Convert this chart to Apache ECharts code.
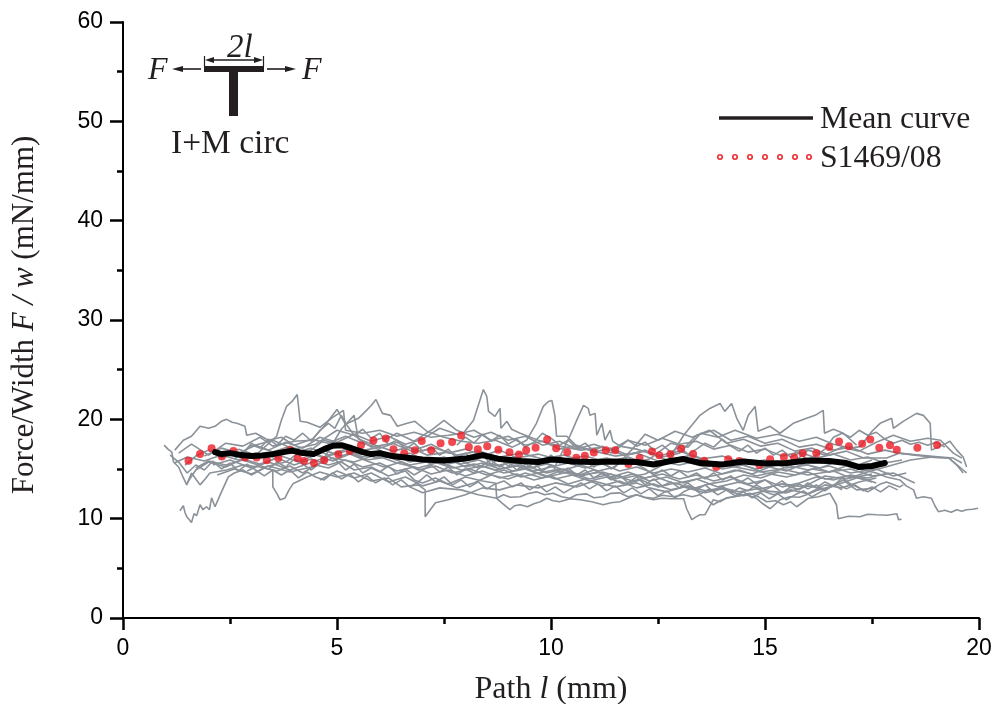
<!DOCTYPE html>
<html><head><meta charset="utf-8">
<style>html,body{margin:0;padding:0;background:#fff}#c{width:996px;height:704px}</style>
<script src="https://cdn.jsdelivr.net/npm/echarts@6/dist/echarts.min.js"></script>
</head><body><div id="c"></div>
<script>
const xTicks=[0,5,10,15,20];
const yTicks=[0,10,20,30,40,50,60];
const meanCurve=[[2.15,16.7],[2.3,16.5],[2.5,16.6],[2.75,16.4],[3,16.3],[3.25,16.35],[3.5,16.5],[3.75,16.7],[3.95,16.85],[4.2,16.6],[4.45,16.5],[4.7,17],[4.9,17.35],[5.1,17.4],[5.3,17.15],[5.6,16.7],[5.8,16.5],[6,16.6],[6.3,16.3],[6.6,16.15],[7,15.95],[7.5,15.85],[8,16.05],[8.4,16.4],[8.8,16],[9.3,15.8],[9.7,15.7],[10,15.95],[10.2,15.9],[10.5,15.75],[11,15.7],[11.5,15.75],[12,15.7],[12.4,15.45],[12.8,15.8],[13.1,16],[13.5,15.6],[14,15.45],[14.5,15.75],[15,15.55],[15.5,15.6],[16,15.85],[16.5,15.8],[16.9,15.6],[17.2,15.2],[17.5,15.3],[17.8,15.6]];
const s1469=[[1.53,15.84],[1.8,16.5],[2.07,17.08],[2.31,16.25],[2.58,16.8],[2.85,16.15],[3.12,16.15],[3.36,15.88],[3.63,16.08],[3.9,16.9],[4.08,16.11],[4.23,15.81],[4.46,15.61],[4.7,15.88],[5.03,16.48],[5.3,16.82],[5.56,17.39],[5.85,17.86],[6.14,18.06],[6.32,16.99],[6.57,16.58],[6.82,16.88],[6.98,17.83],[7.2,16.88],[7.42,17.59],[7.69,17.72],[7.9,18.36],[8.08,17.22],[8.29,16.99],[8.51,17.29],[8.77,16.95],[9.03,16.68],[9.25,16.45],[9.42,16.88],[9.64,17.15],[9.91,17.96],[10.12,17.09],[10.38,16.68],[10.59,16.14],[10.79,16.34],[11,16.65],[11.28,16.88],[11.5,16.88],[11.81,15.51],[12.07,16.11],[12.36,16.75],[12.53,16.38],[12.79,16.48],[13.04,17.05],[13.32,16.52],[13.58,15.84],[13.86,15.2],[14.14,15.98],[14.4,15.81],[14.87,15.4],[15.12,15.98],[15.44,16.21],[15.68,16.15],[15.88,16.58],[16.2,16.58],[16.5,17.22],[16.73,17.76],[16.96,17.29],[17.27,17.55],[17.46,17.96],[17.67,17.15],[17.92,17.39],[18.08,16.95],[18.56,17.15],[19.02,17.42]];
const g01=[[1.33,10.8],[1.41,11.3],[1.45,10.6],[1.49,10.2],[1.55,9.9],[1.6,9.6],[1.66,10.5],[1.72,10.3],[1.8,11.4],[1.87,10.9],[1.95,11.2],[2.02,10.9],[2.07,12.1],[2.15,11.2],[2.27,12.4],[2.46,14.2],[2.6,14.6],[2.8,14.9],[3,14.4],[3.3,15.1],[3.6,14.8],[3.9,15.3],[4.2,14.6],[4.5,15.4],[4.8,15.1],[5.1,15.7],[5.4,14.9],[5.8,15.2],[6.2,14.3],[6.6,14.8],[6.8,13.9],[7,13.6],[7.3,14.1],[7.6,13.5],[8,14.2],[8.4,13.8],[8.71,13.56],[8.73,12.05],[8.89,12.4],[9.05,12.15],[9.28,12.2],[9.45,12.5],[9.66,12.7],[9.85,12.4],[10.05,12.55],[10.25,12.2],[10.44,12.05],[10.6,12.4],[10.83,12.5],[11,12.1],[11.22,12.2],[11.4,12.55],[11.6,12.6],[11.8,12.2],[12,12.4],[12.2,12.15],[12.39,12.05],[12.6,12.35],[12.86,12.2],[13.1,12.4],[13.3,12.2],[13.48,12.4],[13.65,11.9],[13.79,11.4],[13.95,11.8],[14.1,12.05],[14.4,12.3],[14.65,12.55],[14.85,12.2],[15.04,11.7],[15.25,11.8],[15.43,11.4],[15.6,11.7],[15.74,11.2],[16.01,12.05],[16.25,12.2],[16.52,12.55],[16.67,11.4],[16.71,10],[16.95,10.25],[17.22,10.2],[17.4,10.45],[17.61,10.4],[17.85,10.35],[18.08,10.5],[18.12,9.9],[18.19,9.94]];
const g02=[[6.7,13.2],[7,12.6],[7.4,13.1],[7.9,12.9],[8.3,12.4],[8.73,12.05],[8.85,11.6],[9.04,10.9],[9.15,11.3],[9.28,11.4],[9.45,11.2],[9.6,11.5],[9.75,11.7],[9.9,12.05],[10.05,11.8],[10.2,11.7],[10.45,12],[10.68,11.9],[10.95,11.7],[11.22,11.4],[11.4,11.6],[11.61,11.7],[11.8,12.05],[12,12.4],[12.2,12.1],[12.39,11.9],[12.6,12.05],[12.8,12],[13.1,12],[13.17,11],[13.29,9.9],[13.4,10.2],[13.48,10.4],[13.6,10.4],[13.79,11.9],[13.95,11.7],[14.1,12.1],[14.26,12.2],[14.57,12.4],[14.8,12.05],[14.95,11.5],[15.12,11],[15.35,11.9],[15.58,12.2],[15.8,12.15],[15.97,12.4],[16.25,12.9],[16.52,13.2],[16.83,13.9],[17,13.3],[17.14,12.9],[17.53,13.06],[17.7,13.5],[17.84,13.7],[18.15,13.2],[18.23,13.4]];
const g03=[[0.96,17.4],[1.05,17],[1.14,16.7],[1.18,15.7],[1.3,15.2],[1.4,14.2],[1.49,13.4],[1.6,14.6],[1.7,14],[1.8,13.4],[1.92,14],[2.03,14.6],[2.42,14.9],[2.8,15.4],[3.2,15.2],[3.5,14.9],[3.5,13.2],[3.6,12.5],[3.67,11.9],[3.78,12.05],[3.88,12.9],[3.98,13.55],[4.3,14.2],[4.6,14.7],[5,14.2],[5.4,14.6],[5.8,13.8],[6.2,14.1],[6.5,13.2],[6.9,13.4],[7.06,12.9],[7.06,10.2],[7.3,11.6],[7.6,11.9],[8,12.4],[8.4,13.1],[8.8,12.9],[9.2,13.4],[9.7,13.1],[10.1,13.6],[10.6,13.2],[11,13.8],[11.5,13.2],[12,13.6],[12.3,13.1],[12.7,12.7],[13.1,13.2],[13.6,12.6],[14,13],[14.5,12.3],[15,12.8],[15.5,12.6],[16,13.3],[16.4,13],[16.8,13.6],[17.2,14.2],[17.6,13.6]];
const g04=[[1.21,16.9],[1.41,17.9],[1.6,18.3],[1.8,19.3],[2,19.1],[2.15,19.3],[2.3,19.8],[2.42,20],[2.55,19.7],[2.66,19.6],[2.85,19.3],[2.89,18.4],[3.1,18.6],[3.4,17.9],[3.7,18.2],[4,17.4],[4.4,18],[4.8,17.6],[5.2,18.3],[5.6,17.6],[6,17.1],[6.4,17.7],[6.8,16.9],[7.2,17.5],[7.6,16.6],[8,17],[8.4,16.3],[8.8,16.9],[9.2,16.1],[9.7,16.5],[10.2,15.9],[10.8,16.3],[11.3,15.7],[11.8,16.2],[12.4,15.3],[13,15.9],[13.6,15.2],[14.2,15.7],[14.8,15],[15.4,15.5],[16,14.9],[16.5,15.3],[17,14.6],[17.6,15],[18,14.3],[18.3,14.6]];
const g05=[[1.45,15.4],[1.7,16.3],[2,16.9],[2.3,16.1],[2.7,17],[3.1,16.4],[3.59,18.3],[3.7,19.9],[3.82,21.3],[3.95,21.8],[4.07,22.5],[4.14,19.8],[4.3,19.7],[4.6,19.2],[4.9,20.2],[5.15,20.9],[5.2,18.9],[5.6,18.6],[6,18.9],[6.4,18.3],[6.8,18.7],[7.2,18.2],[7.6,18.4],[7.95,18.6],[8.19,19.9],[8.3,21.4],[8.42,23],[8.5,22.3],[8.54,20.8],[8.69,20.3],[8.81,21.1],[8.83,19.1],[8.97,19.8],[9.08,19],[9.28,18.6],[9.7,17.9],[10.2,17.3],[10.7,16.9],[11.2,17.2],[11.7,16.4],[12.2,16.8],[12.7,15.9],[13.3,16.4],[13.8,15.6],[14.3,15.2],[14.9,14.7],[15.4,15],[16,14.4],[16.6,14.8],[17,14.1],[17.5,14.5]];
const g06=[[1.3,16.6],[1.6,17.5],[2,16.4],[2.4,17.6],[2.8,17.3],[3.2,18.2],[3.5,17.3],[4,17.8],[4.4,17.9],[4.7,19.3],[5,21],[5.2,19.5],[5.5,20.1],[5.69,20.9],[5.8,21.4],[5.91,22],[6.06,20.6],[6.25,20.4],[6.41,19.3],[6.64,19.6],[6.82,19.8],[7.1,18.8],[7.5,18.2],[7.9,17.8],[8.3,17.6],[8.7,17.9],[9.1,17.2],[9.43,17.9],[9.66,19.6],[9.82,21.3],[9.94,21.8],[10.02,21.9],[10.09,20.4],[10.13,18.3],[10.37,18.3],[10.6,17.3],[11,16.8],[11.5,16.3],[12,16.6],[12.5,15.8],[13,15.4],[13.5,15.9],[14,15],[14.5,15.4],[15,14.6],[15.5,14.2],[16,14.7],[16.4,14],[17,14.3],[17.5,13.7]];
const g07=[[2.1,15.4],[2.5,15.9],[3,15.1],[3.4,15.7],[3.9,14.9],[4.3,15.5],[4.7,16.1],[5.1,19],[5.4,20.4],[5.5,18],[5.9,17.4],[6.3,16.8],[6.7,17.2],[7.1,16.4],[7.6,16.7],[8.1,15.9],[8.6,16.3],[9.1,15.5],[9.6,15.9],[10.1,15.3],[10.44,18.3],[10.6,19.9],[10.76,21.4],[10.87,21.1],[10.91,20.4],[11.03,20.6],[11.07,18.4],[11.19,19.6],[11.26,17.9],[11.38,18.9],[11.44,17.8],[11.61,17.3],[12,17],[12.5,16.3],[13,16.8],[13.5,16],[14,16.3],[14.5,15.6],[15,15.9],[15.5,15.1],[16,15.4],[16.5,14.7],[17,15],[17.5,14.3],[18,14.6],[18.5,13.6]];
const g08=[[2.2,14.4],[2.6,15],[3,14.5],[3.4,15.3],[3.9,14.7],[4.4,15.2],[4.9,16.1],[5.4,15.7],[5.9,16.4],[6.4,15.6],[6.9,15.1],[7.4,15.7],[7.9,14.9],[8.4,15.3],[8.9,14.6],[9.4,15],[9.9,14.2],[10.4,14.7],[10.9,14],[11.4,14.5],[11.9,13.8],[12.4,14.3],[12.9,13.5],[13.4,14],[13.9,13.2],[14.4,13.7],[14.9,13],[15.4,13.5],[15.9,13.2],[16.4,14.3],[16.9,14],[17.4,14.7],[17.9,15.3],[18.4,15.9],[18.9,16.2],[19.3,16.1],[19.63,14.9],[19.71,14.6]];
const g09=[[1.7,15.1],[2,15.8],[2.4,15.4],[2.8,15.9],[3.3,15.2],[3.8,15.7],[4.2,16.9],[4.7,16.2],[5.2,16.8],[5.7,15.9],[6.2,16.2],[6.7,15.4],[7.2,15.8],[7.7,15.1],[8.2,15.5],[8.7,14.9],[9.2,15.3],[9.7,14.6],[10.2,15],[10.7,14.4],[11.2,14.7],[11.7,14.1],[12.2,14.5],[12.7,15.6],[13.1,18.4],[13.48,20.4],[13.71,21.1],[13.95,21.6],[14.06,20.8],[14.22,21.6],[14.34,20.1],[14.49,18.9],[14.61,20.4],[14.77,21.3],[14.84,18.8],[15.12,19.3],[15.35,18.6],[15.66,19.6],[15.97,20.1],[16.17,20.4],[16.36,20.9],[16.39,18.6],[16.6,19],[16.83,18.6],[17.14,17.4]];
const g10=[[3,17.3],[3.5,17.9],[4,17],[4.5,17.5],[5,18.9],[5.4,18.4],[5.8,17.2],[6.3,17.6],[6.8,16.7],[7.3,17.1],[7.8,16.4],[8.3,16.8],[8.8,16.2],[9.3,16.6],[9.8,16],[10.3,16.4],[10.8,15.7],[11.3,16.1],[11.8,15.5],[12.3,16],[12.8,17.6],[13.2,17.2],[13.5,18.6],[13.9,18.2],[14.3,18.9],[14.8,18.1],[15.3,18.5],[15.8,17.8],[16.2,18.2],[16.6,17.5],[17,17.1],[17.22,17.25],[17.5,18.8],[17.69,19.6],[17.96,20.1],[18,19.1],[18.23,19.8],[18.54,20.6],[18.7,20.4],[18.86,19.6],[18.89,16.9],[19.24,17.6],[19.32,17.8],[19.48,16.9],[19.63,16.2],[19.71,15.2]];
const g11=[[1.9,16.3],[2.3,17.1],[2.7,16.6],[3.1,17.4],[3.5,16.7],[3.9,17.3],[4.3,16.6],[4.7,17.9],[5.1,17.4],[5.5,16.8],[5.9,17.1],[6.3,16.2],[6.7,16.6],[7.1,15.8],[7.5,16.2],[7.9,15.5],[8.3,15.9],[8.7,15.3],[9.1,15.7],[9.5,15.1],[9.9,15.5],[10.3,14.9],[10.7,15.4],[11.1,14.8],[11.5,15.2],[11.9,17],[12.2,18.5],[12.5,17.9],[12.9,18.8],[13.3,18.2],[13.7,18.9],[14.1,17.6],[14.5,18],[14.9,17.3],[15.3,17.6],[15.7,16.8],[16.1,17.1],[16.5,16.4],[16.9,16.8],[17.3,16.1],[17.84,16.1],[18.15,16.6],[18.5,16.4],[18.9,16.2],[19.3,16.1],[19.5,15.3],[19.63,14.6]];
const g12=[[2.9,14.8],[3.3,15.6],[3.7,16.3],[4.1,15.7],[4.5,16.4],[4.9,15.8],[5.3,16.5],[5.7,15.8],[6.1,15.2],[6.5,15.7],[6.9,14.9],[7.3,15.3],[7.7,14.6],[8.1,15],[8.5,14.4],[8.9,14.9],[9.3,14.2],[9.7,14.6],[10.1,14],[10.5,14.4],[10.9,13.8],[11.3,14.2],[11.7,13.5],[12.1,13.9],[12.5,13.2],[12.9,13.6],[13.3,13],[13.7,13.5],[14.1,13.8],[14.5,14.4],[14.9,14.1],[15.3,14.7],[15.7,14.4],[16.1,15],[16.5,14.7],[16.9,15.3],[17.3,14.9],[17.6,14.6],[17.84,14.2],[18.15,13.9],[18.3,13.3],[18.47,12.9],[18.54,12.05],[18.7,12.2],[18.89,12.05],[18.97,11.3],[19.05,10.7],[19.2,10.85],[19.35,10.65],[19.48,10.9],[19.6,10.75],[19.71,10.9],[19.85,10.95],[19.98,11.05]];
const g13=[[2.6,16],[3,17.4],[3.4,16.9],[3.8,17.7],[4.2,17.1],[4.6,18.2],[5,17.7],[5.4,18.5],[5.8,17.8],[6.2,18.3],[6.6,17.5],[7,18],[7.4,19.1],[7.8,18.5],[8.2,18.9],[8.6,17.9],[9,18.3],[9.4,17.4],[9.8,17.8],[10.2,17],[10.6,17.4],[11,16.7],[11.4,17.1],[11.8,16.4],[12.2,16.9],[12.6,16.2],[13,16.6],[13.4,18.4],[13.8,18.9],[14.2,17.9],[14.6,18.3],[15,17.6],[15.4,18],[15.8,17.2],[16.2,17.5],[16.6,16.9],[17,17.2],[17.4,16.5],[17.8,16.9],[18.1,16.6],[18.6,16.4],[19.1,16.2],[19.4,16.1],[19.6,15.6]];
const g14=[[1.5,13.6],[1.7,14.9],[2,15.7],[2.4,15.2],[2.8,16],[3.2,15.5],[3.6,16.1],[4,15.4],[4.4,16],[4.8,15.4],[5.2,15.9],[5.6,15.2],[6,15.6],[6.4,14.8],[6.8,15.2],[7.2,14.5],[7.6,14.9],[8,14.3],[8.4,14.8],[8.8,14.1],[9.2,14.5],[9.6,13.9],[10,14.3],[10.4,13.5],[10.8,14],[11.2,13.3],[11.6,13.8],[12,13.1],[12.4,13.5],[12.8,12.9],[13.2,13.3],[13.6,12.8],[14,13.1],[14.4,12.7],[14.8,13],[15.2,12.4],[15.6,12.9],[16,12.5],[16.4,13.4],[16.8,13.1],[17.2,13.7],[17.6,14.1]];
const g15=[[4,16.6],[4.4,17.1],[4.8,16.4],[5.2,17],[5.6,16.2],[6,16.7],[6.4,15.9],[6.8,16.3],[7.2,15.5],[7.6,16],[8,15.2],[8.4,15.6],[8.8,15],[9.2,15.4],[9.6,14.8],[10,15.2],[10.4,15.6],[10.8,15.1],[11.2,15.5],[11.6,14.8],[12,15.2],[12.4,14.6],[12.8,15],[13.2,14.7],[13.6,15.1],[14,14.5],[14.4,14.9],[14.8,14.3],[15.2,14.7],[15.6,15.4],[16,16.9],[16.4,16.4],[16.8,17.2],[17.2,16.8],[17.6,17.7],[18,18.4],[18.4,17.8],[18.8,18.1],[19.1,17.9],[19.4,16.6],[19.6,16.1]];
const g16=[[1.2,15.6],[1.5,16.2],[1.9,15.8],[2.3,16.4],[2.7,15.9],[3.1,16.6],[3.5,16.2],[3.9,16.8],[4.3,16.3],[4.7,16.9],[5.1,16.3],[5.5,16.9],[5.9,16.1],[6.3,16.5],[6.7,15.7],[7.1,16.1],[7.5,15.4],[7.9,15.8],[8.3,15.1],[8.7,15.5],[9.1,14.8],[9.5,15.2],[9.9,14.6],[10.3,15],[10.7,14.3],[11.1,14.7],[11.5,14],[11.9,14.5],[12.3,13.8],[12.7,14.2],[13.1,13.6],[13.5,14.1],[13.9,14.4],[14.3,14.9],[14.7,14.5],[15.1,15.2],[15.5,14.8],[15.9,15.5],[16.3,15.1],[16.7,15.8],[17.1,15.3],[17.5,15.9]];
const g17=[[6.1,17.9],[6.4,18.6],[6.8,17.8],[7.2,18.9],[7.5,19.9],[7.8,18.9],[8.2,18.2],[8.6,18.7],[9,17.9],[9.4,18.3],[9.8,17.4],[10.2,17.8],[10.6,17],[11,17.5],[11.4,16.9],[11.8,17.9],[12.2,17.4],[12.6,18.1],[13,17.5],[13.4,17.8],[13.8,17],[14.2,17.4],[14.6,16.7],[15,17],[15.4,16.3],[15.8,16.7],[16.2,16.1],[16.6,16.5],[17,15.9],[17.4,16.2],[17.8,15.6],[18.2,15.9]];
const g18=[[4.6,13.9],[5,14.8],[5.4,14.1],[5.8,14.6],[6.2,13.7],[6.6,14.2],[7,13.3],[7.4,13.8],[7.8,13.1],[8.2,13.6],[8.6,14.4],[9,14],[9.4,14.6],[9.8,14.1],[10.2,14.8],[10.6,14.3],[11,14.9],[11.4,14.2],[11.8,14.7],[12.2,14.1],[12.6,14.5],[13,14],[13.4,14.4],[13.8,13.8],[14.2,14.2],[14.6,13.5],[15,13.9],[15.4,13.2],[15.8,13.6],[16.2,14.2],[16.6,13.9],[17,14.4],[17.4,14.1],[17.9,14.6]];
const g19=[[2.4,16.2],[2.6,16.9],[2.8,16.5],[3,17.6],[3.2,17.1],[3.4,18],[3.6,17.4],[3.8,18.3],[4,17.9],[4.2,18.6],[4.4,17.8],[4.6,18.9],[4.8,19.6],[4.95,19.1],[5.1,20.4],[5.25,19.3],[5.4,18.4],[5.6,19],[5.8,18.1],[6,18.6],[6.2,17.5],[6.4,17.9],[6.6,17],[6.8,17.6],[7,16.8],[7.2,17.2],[7.4,16.4],[7.6,17],[7.8,16.1],[8,16.6],[8.2,15.8],[8.4,16.4],[8.6,15.5],[8.8,16.1],[9,15.3],[9.2,15.8],[9.4,15.1],[9.6,15.6],[9.8,14.8],[10,15.4],[10.2,14.6],[10.4,15.1],[10.6,14.4],[10.8,14.9],[11,14.1],[11.2,14.6],[11.4,13.9],[11.6,14.4],[11.8,13.6],[12,14.2],[12.2,13.4],[12.4,14],[12.6,13.3],[12.8,13.7],[13,13.1],[13.2,13.6],[13.4,12.9],[13.6,13.4],[13.8,12.7],[14,13.3],[14.2,12.6],[14.4,13.1],[14.6,12.8],[14.8,13.4],[15,12.9],[15.2,13.3],[15.4,12.6],[15.6,13.2],[15.8,12.9],[16,13.6],[16.2,13.1],[16.4,13.7],[16.6,13.3],[16.8,14.1],[17,13.5],[17.2,13.1],[17.4,12.7],[17.6,13.2]];
const g20=[[3.4,15],[3.6,15.7],[3.8,15.2],[4,16],[4.2,15.5],[4.4,14.9],[4.6,15.6],[4.8,16.3],[5,15.8],[5.2,14.9],[5.4,15.5],[5.6,14.6],[5.8,15.1],[6,14.7],[6.2,15.3],[6.4,14.5],[6.6,15],[6.8,14.4],[7,14.9],[7.2,15.4],[7.4,14.7],[7.6,15.2],[7.8,14.4],[8,15],[8.2,14.6],[8.4,15.4],[8.6,15.9],[8.8,15.2],[9,15.7],[9.2,14.9],[9.4,15.5],[9.6,15.1],[9.8,15.7],[10,16.4],[10.2,15.6],[10.4,16.1],[10.6,15.3],[10.8,15.8],[11,15.2],[11.2,15.8],[11.4,15],[11.6,15.6],[11.8,16.2],[12,15.5],[12.2,15],[12.4,14.4],[12.6,14.9],[12.8,14.3],[13,14.8],[13.2,14.2],[13.4,14.6],[13.6,14],[13.8,14.6],[14,13.9],[14.2,14.3],[14.4,13.6],[14.6,14.1],[14.8,13.5],[15,13.9],[15.2,13.3],[15.4,13.8],[15.6,13.1],[15.8,13.5],[16,13],[16.2,13.4],[16.4,12.8],[16.6,13.4],[16.8,12.9]];
const g21=[[7.8,17.4],[8,18.2],[8.2,17.6],[8.4,18.5],[8.6,17.8],[8.8,18.4],[9,17.5],[9.2,18],[9.4,17.2],[9.6,17.7],[9.8,18.6],[10,18.1],[10.2,17.4],[10.4,17.9],[10.6,17.1],[10.8,17.6],[11,16.8],[11.2,17.3],[11.4,16.6],[11.6,17.2],[11.8,17.9],[12,17.3],[12.2,17.7],[12.4,16.9],[12.6,17.4],[12.8,16.7],[13,17.2],[13.2,16.5],[13.4,17],[13.6,17.6],[13.8,17.2],[14,18],[14.2,17.3],[14.4,16.8],[14.6,17.4],[14.8,16.6],[15,17.1],[15.2,16.4],[15.4,16.9],[15.6,16.2],[15.8,16.6],[16,15.9],[16.2,16.4],[16.4,17],[16.6,18.2],[16.8,18.6],[17,18.2],[17.2,18.9],[17.4,18.4],[17.6,18.7],[17.8,18],[18,17.6],[18.2,17.9],[18.4,17.5],[18.6,17.7],[18.8,17.4],[19,17.7],[19.2,17.2]];
const g22=[[1.1,16.4],[1.3,15.7],[1.5,14.6],[1.7,15.4],[1.9,14.9],[2.1,15.8],[2.3,15],[2.5,15.6],[2.7,14.8],[2.9,15.5],[3.1,14.9],[3.3,14.3],[3.5,14.9],[3.7,14.4],[3.9,14.9],[4.1,14.1],[4.3,14.7],[4.5,14.2],[4.7,13.9],[4.9,14.6],[5.1,14],[5.3,14.5],[5.5,13.7],[5.7,14.3],[5.9,13.6],[6.1,14.1],[6.3,13.4],[6.5,13.9],[6.7,13.2],[6.9,13.7],[7.1,14.4],[7.3,13.7],[7.5,14.2],[7.7,13.4],[7.9,13.9],[8.1,13.2],[8.3,13.7],[8.5,13],[8.7,13.5],[8.9,13.8],[9.1,13.2],[9.3,13.6],[9.5,12.9],[9.7,13.4],[9.9,12.7],[10.1,13.2],[10.3,12.6],[10.5,13.1],[10.7,13.6],[10.9,13],[11.1,13.5],[11.3,12.8],[11.5,13.3],[11.7,12.6],[11.9,13.1],[12.1,12.5],[12.3,13],[12.5,12.3],[12.7,12.8],[12.9,12.1],[13.1,12.7],[13.3,13.1],[13.5,12.5],[13.7,13],[13.9,12.4],[14.1,12.9],[14.3,12.3],[14.5,12.7],[14.7,12.1],[14.9,12.6],[15.1,12],[15.3,12.5],[15.5,11.9],[15.7,12.4],[15.9,12.8],[16.1,12.2],[16.3,12.7],[16.5,13.1],[16.7,13.5],[16.9,13],[17.1,13.4],[17.3,12.8],[17.5,13.2],[17.7,12.7],[17.9,13.3],[18.1,12.9]];
const greyCurves=[g01,g02,g03,g04,g05,g06,g07,g08,g09,g10,g11,g12,g13,g14,g15,g16,g17,g18,g19,g20,g21,g22];

const serif='"Liberation Serif","Times New Roman",serif';
const sans='"Liberation Sans",Arial,sans-serif';
const ink='#231f20';
const legendDots=[720,735,750,765,780,795,809];
function label(text,x,y,size,italic){return {type:'text',z:20,x:x,y:y,style:{text:text,fill:ink,font:(italic?'italic ':'')+size+'px '+serif,textVerticalAlign:'middle',textBaseline:'middle'}}}
function seg(x1,y1,x2,y2,w){return {type:'line',z:20,shape:{x1,y1,x2,y2},style:{stroke:ink,lineWidth:w}}}
function head(pts){return {type:'polygon',z:20,shape:{points:pts},style:{fill:ink}}}

const option={
 animation:false,backgroundColor:'#fff',
 grid:{left:123,right:17,top:22,bottom:86,containLabel:false,outerBoundsMode:'none'},
 xAxis:{type:'value',min:0,max:20,interval:5,
  name:'{a|Path }{i|l}{a| (mm)}',nameLocation:'middle',nameGap:56,
  nameTextStyle:{rich:{a:{fontFamily:serif,fontSize:32,color:ink},i:{fontFamily:serif,fontStyle:'italic',fontSize:32,color:ink}}},
  axisLine:{onZero:false,lineStyle:{color:'#000',width:2}},
  axisTick:{length:12,lineStyle:{color:'#000',width:2.5},inside:false},
  minorTick:{show:true,splitNumber:2,length:6,lineStyle:{color:'#000',width:2.5}},
  axisLabel:{fontFamily:sans,fontSize:23,color:'#000',margin:19,formatter:v=>xTicks.includes(v)?String(v):''},
  splitLine:{show:false},minorSplitLine:{show:false}},
 yAxis:{type:'value',min:0,max:60,interval:10,
  name:'{a|Force/Width }{i|F / w}{a| (mN/mm)}',nameLocation:'middle',nameGap:83,nameRotate:90,
  nameTextStyle:{padding:[0,0,0,10],rich:{a:{fontFamily:serif,fontSize:31,color:ink},i:{fontFamily:serif,fontStyle:'italic',fontSize:31,color:ink}}},
  axisLine:{show:true,onZero:false,lineStyle:{color:'#000',width:2}},
  axisTick:{show:true,length:13,lineStyle:{color:'#000',width:2.5}},
  minorTick:{show:true,splitNumber:2,length:6,lineStyle:{color:'#000',width:2.5}},
  axisLabel:{fontFamily:sans,fontSize:23,color:'#000',margin:20,formatter:v=>yTicks.includes(v)?String(v):''},
  splitLine:{show:false},minorSplitLine:{show:false}},
 series:[
  ...greyCurves.map((d,i)=>({name:'Specimen '+(i+1),type:'line',data:d,showSymbol:false,symbol:'none',silent:true,z:2,lineStyle:{color:'#8a9198',width:1.6}})),
  {name:'S1469/08',type:'scatter',data:s1469,symbol:'circle',symbolSize:8,z:4,itemStyle:{color:'#ee1c25'}},
  {name:'Mean curve',type:'line',data:meanCurve,showSymbol:false,symbol:'none',z:6,lineStyle:{color:'#000',width:6,cap:'round',join:'round'}}
 ],
 graphic:[
  seg(719,118,813,118,3.5),
  label('Mean curve',820,120,31.7),
  ...legendDots.map(x=>({type:'circle',z:20,shape:{cx:x,cy:157,r:2.2},style:{fill:'#fff',stroke:'#ee2a2e',lineWidth:1.6}})),
  label('S1469/08',820,159,31.7),
  {type:'rect',z:20,shape:{x:204,y:66,width:60,height:6},style:{fill:ink}},
  {type:'rect',z:20,shape:{x:229,y:71,width:9,height:45},style:{fill:ink}},
  seg(204.5,56,204.5,66,1.2),seg(263.5,56,263.5,66,1.2),
  seg(208,60,260,60,1.4),head([[205,60],[214,57],[214,63]]),head([[263,60],[254,57],[254,63]]),
  seg(180,69,201,69,1.6),head([[172,69],[183,66],[183,72]]),
  seg(267,69,288,69,1.6),head([[296,69],[285,66],[285,72]]),
  label('F',148,71,32,true),label('F',302,71,32,true),label('2l',227,48,33,true),
  label('I+M circ',171,144,33.5)
 ]
};
echarts.init(document.getElementById('c'),null,{renderer:'canvas'}).setOption(option);
</script></body></html>
